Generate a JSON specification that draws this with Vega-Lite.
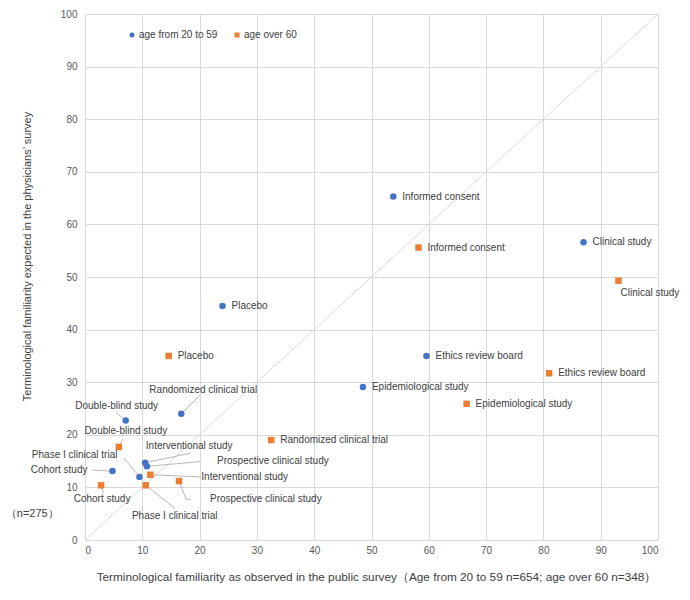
{
  "$schema": "https://vega.github.io/schema/vega-lite/v6.json",
  "width": 573,
  "height": 526,
  "autosize": {"type": "none"},
  "padding": {"left": 85, "top": 14, "right": 32, "bottom": 60},
  "background": "white",
  "config": {
    "view": {"stroke": null},
    "font": "Liberation Sans",
    "axis": {
      "grid": true,
      "gridColor": "#d9d9d9",
      "gridWidth": 1,
      "domain": false,
      "ticks": false,
      "labelColor": "#595959",
      "labelFontSize": 10,
      "labelFont": "Liberation Sans",
      "titleFont": "Liberation Sans",
      "titleFontSize": 11,
      "titleFontWeight": "normal",
      "titleColor": "#404040"
    },
    "legend": {
      "orient": "none",
      "direction": "horizontal",
      "legendX": 42,
      "legendY": 16,
      "padding": 0,
      "symbolSize": 25,
      "labelOffset": 2,
      "columnPadding": 14,
      "labelFontSize": 10,
      "labelColor": "#404040",
      "labelFont": "Liberation Sans",
      "title": null
    },
    "text": {"font": "Liberation Sans", "fontSize": 10, "color": "#404040", "baseline": "middle"}
  },
  "data": {
    "values": [
      {"term": "Informed consent", "group": "age from 20 to 59", "x": 53.8, "y": 65.3},
      {"term": "Clinical study", "group": "age from 20 to 59", "x": 87.0, "y": 56.6},
      {"term": "Placebo", "group": "age from 20 to 59", "x": 24.0, "y": 44.5},
      {"term": "Ethics review board", "group": "age from 20 to 59", "x": 59.6, "y": 35.0},
      {"term": "Epidemiological study", "group": "age from 20 to 59", "x": 48.5, "y": 29.1},
      {"term": "Randomized clinical trial", "group": "age from 20 to 59", "x": 16.8, "y": 24.0},
      {"term": "Double-blind study", "group": "age from 20 to 59", "x": 7.1, "y": 22.7},
      {"term": "Interventional study", "group": "age from 20 to 59", "x": 10.5, "y": 14.7},
      {"term": "Prospective clinical study", "group": "age from 20 to 59", "x": 10.8, "y": 14.0},
      {"term": "Phase I clinical trial", "group": "age from 20 to 59", "x": 9.5, "y": 12.0},
      {"term": "Cohort study", "group": "age from 20 to 59", "x": 4.8, "y": 13.1},
      {"term": "Informed consent", "group": "age over 60", "x": 58.2, "y": 55.6},
      {"term": "Clinical study", "group": "age over 60", "x": 93.1, "y": 49.3},
      {"term": "Placebo", "group": "age over 60", "x": 14.6, "y": 35.0},
      {"term": "Ethics review board", "group": "age over 60", "x": 81.0, "y": 31.7},
      {"term": "Epidemiological study", "group": "age over 60", "x": 66.6, "y": 25.9},
      {"term": "Randomized clinical trial", "group": "age over 60", "x": 32.5, "y": 19.0},
      {"term": "Double-blind study", "group": "age over 60", "x": 5.9, "y": 17.7},
      {"term": "Interventional study", "group": "age over 60", "x": 11.4, "y": 12.4},
      {"term": "Prospective clinical study", "group": "age over 60", "x": 16.4, "y": 11.2},
      {"term": "Phase I clinical trial", "group": "age over 60", "x": 10.6, "y": 10.4},
      {"term": "Cohort study", "group": "age over 60", "x": 2.8, "y": 10.4}
    ]
  },
  "encoding": {
    "x": {
      "field": "x",
      "type": "quantitative",
      "scale": {"domain": [0, 100], "nice": false, "zero": false},
      "axis": {
        "values": [0, 10, 20, 30, 40, 50, 60, 70, 80, 90, 100],
        "labelPadding": 5,
        "title": "Terminological familiarity as observed in the public survey（Age from 20 to 59  n=654; age over 60 n=348）",
        "titleFontSize": 11.8,
        "titleX": 291,
        "titleY": 36,
        "titleBaseline": "middle"
      }
    },
    "y": {
      "field": "y",
      "type": "quantitative",
      "scale": {"domain": [0, 100], "nice": false, "zero": false},
      "axis": {
        "values": [0, 10, 20, 30, 40, 50, 60, 70, 80, 90, 100],
        "labelPadding": 8,
        "title": "Terminological familiarity expected in the physicians’ survey",
        "titleX": -58,
        "titleY": 242,
        "titleBaseline": "middle",
        "titleAngle": -90
      }
    }
  },
  "layer": [
    {
      "data": {"values": [{"from": 0, "to": 100}]},
      "mark": {"type": "rule", "color": "#d9d9d9", "strokeWidth": 1},
      "encoding": {
        "x": {"field": "from", "type": "quantitative"},
        "y": {"field": "from", "type": "quantitative"},
        "x2": {"field": "to"},
        "y2": {"field": "to"}
      }
    },
    {
      "data": {"values": [{"note": "（n=275）", "nx": -9.2, "ny": 4.9}]},
      "mark": {"type": "text", "align": "center", "fontSize": 11, "clip": false},
      "encoding": {
        "x": {"field": "nx", "type": "quantitative"},
        "y": {"field": "ny", "type": "quantitative"},
        "text": {"field": "note"}
      }
    },
    {
      "transform": [{"filter": "datum.group == 'age from 20 to 59' && datum.term == 'Randomized clinical trial'"}],
      "mark": {"type": "rule", "color": "#a6a6a6", "strokeWidth": 0.8},
      "encoding": {"x2": {"datum": 20.1}, "y2": {"datum": 27.6}}
    },
    {
      "transform": [{"filter": "datum.group == 'age from 20 to 59' && datum.term == 'Double-blind study'"}],
      "mark": {"type": "rule", "color": "#a6a6a6", "strokeWidth": 0.8},
      "encoding": {"x2": {"datum": 5.6}, "y2": {"datum": 24.1}}
    },
    {
      "transform": [{"filter": "datum.group == 'age from 20 to 59' && datum.term == 'Interventional study'"}],
      "mark": {"type": "rule", "color": "#a6a6a6", "strokeWidth": 0.8},
      "encoding": {"x2": {"datum": 18.4}, "y2": {"datum": 16.5}}
    },
    {
      "transform": [{"filter": "datum.group == 'age from 20 to 59' && datum.term == 'Prospective clinical study'"}],
      "mark": {"type": "rule", "color": "#a6a6a6", "strokeWidth": 0.8},
      "encoding": {"x2": {"datum": 20.1}, "y2": {"datum": 14.9}}
    },
    {
      "transform": [{"filter": "datum.group == 'age from 20 to 59' && datum.term == 'Phase I clinical trial'"}],
      "mark": {"type": "rule", "color": "#a6a6a6", "strokeWidth": 0.8},
      "encoding": {"x2": {"datum": 6.8}, "y2": {"datum": 15.6}}
    },
    {
      "transform": [{"filter": "datum.group == 'age from 20 to 59' && datum.term == 'Cohort study'"}],
      "mark": {"type": "rule", "color": "#a6a6a6", "strokeWidth": 0.8},
      "encoding": {"x2": {"datum": 1.2}, "y2": {"datum": 13.3}}
    },
    {
      "transform": [{"filter": "datum.group == 'age over 60' && datum.term == 'Double-blind study'"}],
      "mark": {"type": "rule", "color": "#a6a6a6", "strokeWidth": 0.8},
      "encoding": {"x2": {"datum": 6.6}, "y2": {"datum": 19.2}}
    },
    {
      "transform": [{"filter": "datum.group == 'age over 60' && datum.term == 'Interventional study'"}],
      "mark": {"type": "rule", "color": "#a6a6a6", "strokeWidth": 0.8},
      "encoding": {"x2": {"datum": 20.1}, "y2": {"datum": 12.0}}
    },
    {
      "transform": [{"filter": "datum.group == 'age over 60' && datum.term == 'Prospective clinical study'"}],
      "mark": {"type": "rule", "color": "#a6a6a6", "strokeWidth": 0.8},
      "encoding": {"x2": {"datum": 17.7}, "y2": {"datum": 7.7}}
    },
    {
      "transform": [{"filter": "datum.group == 'age over 60' && datum.term == 'Prospective clinical study'"}],
      "mark": {"type": "rule", "color": "#a6a6a6", "strokeWidth": 0.8},
      "encoding": {"x": {"datum": 17.7}, "y": {"datum": 7.7}, "x2": {"datum": 18.5}, "y2": {"datum": 7.7}}
    },
    {
      "transform": [{"filter": "datum.group == 'age over 60' && datum.term == 'Phase I clinical trial'"}],
      "mark": {"type": "rule", "color": "#a6a6a6", "strokeWidth": 0.8},
      "encoding": {"x2": {"datum": 15.7}, "y2": {"datum": 6.0}}
    },
    {
      "transform": [{"filter": "datum.group == 'age over 60' && datum.term == 'Cohort study'"}],
      "mark": {"type": "rule", "color": "#a6a6a6", "strokeWidth": 0.8},
      "encoding": {"x2": {"datum": 3.2}, "y2": {"datum": 8.9}}
    },
    {
      "mark": {"type": "point", "filled": true, "opacity": 1, "size": 42},
      "encoding": {
        "color": {
          "field": "group",
          "type": "nominal",
          "scale": {"domain": ["age from 20 to 59", "age over 60"], "range": ["#4472C4", "#ED7D31"]}
        },
        "shape": {
          "field": "group",
          "type": "nominal",
          "scale": {"domain": ["age from 20 to 59", "age over 60"], "range": ["circle", "square"]}
        }
      }
    },
    {
      "transform": [{"filter": "indexof(['Informed consent','Placebo','Ethics review board','Epidemiological study'], datum.term) >= 0 || (datum.group == 'age from 20 to 59' && datum.term == 'Clinical study') || (datum.group == 'age over 60' && datum.term == 'Randomized clinical trial')"}],
      "mark": {"type": "text", "align": "left", "dx": 9, "dy": 0},
      "encoding": {"text": {"field": "term"}}
    },
    {
      "transform": [{"filter": "datum.group == 'age over 60' && datum.term == 'Clinical study'"}],
      "mark": {"type": "text", "align": "left", "dx": 2, "dy": 12},
      "encoding": {"text": {"field": "term"}}
    },
    {
      "transform": [{"filter": "datum.group == 'age from 20 to 59' && datum.term == 'Randomized clinical trial'"}],
      "mark": {"type": "text", "align": "center", "dx": 22, "dy": -24},
      "encoding": {"text": {"field": "term"}}
    },
    {
      "transform": [{"filter": "datum.group == 'age from 20 to 59' && datum.term == 'Double-blind study'"}],
      "mark": {"type": "text", "align": "center", "dx": -9, "dy": -15},
      "encoding": {"text": {"field": "term"}}
    },
    {
      "transform": [{"filter": "datum.group == 'age from 20 to 59' && datum.term == 'Interventional study'"}],
      "mark": {"type": "text", "align": "center", "dx": 44, "dy": -17},
      "encoding": {"text": {"field": "term"}}
    },
    {
      "transform": [{"filter": "datum.group == 'age from 20 to 59' && datum.term == 'Prospective clinical study'"}],
      "mark": {"type": "text", "align": "center", "dx": 126, "dy": -5},
      "encoding": {"text": {"field": "term"}}
    },
    {
      "transform": [{"filter": "datum.group == 'age from 20 to 59' && datum.term == 'Phase I clinical trial'"}],
      "mark": {"type": "text", "align": "right", "dx": -22, "dy": -22},
      "encoding": {"text": {"field": "term"}}
    },
    {
      "transform": [{"filter": "datum.group == 'age from 20 to 59' && datum.term == 'Cohort study'"}],
      "mark": {"type": "text", "align": "right", "dx": -25, "dy": -1},
      "encoding": {"text": {"field": "term"}}
    },
    {
      "transform": [{"filter": "datum.group == 'age over 60' && datum.term == 'Double-blind study'"}],
      "mark": {"type": "text", "align": "center", "dx": 7, "dy": -16},
      "encoding": {"text": {"field": "term"}}
    },
    {
      "transform": [{"filter": "datum.group == 'age over 60' && datum.term == 'Interventional study'"}],
      "mark": {"type": "text", "align": "left", "dx": 51, "dy": 2},
      "encoding": {"text": {"field": "term"}}
    },
    {
      "transform": [{"filter": "datum.group == 'age over 60' && datum.term == 'Prospective clinical study'"}],
      "mark": {"type": "text", "align": "left", "dx": 31, "dy": 18},
      "encoding": {"text": {"field": "term"}}
    },
    {
      "transform": [{"filter": "datum.group == 'age over 60' && datum.term == 'Phase I clinical trial'"}],
      "mark": {"type": "text", "align": "center", "dx": 29, "dy": 31},
      "encoding": {"text": {"field": "term"}}
    },
    {
      "transform": [{"filter": "datum.group == 'age over 60' && datum.term == 'Cohort study'"}],
      "mark": {"type": "text", "align": "center", "dx": 1, "dy": 14},
      "encoding": {"text": {"field": "term"}}
    }
  ]
}
